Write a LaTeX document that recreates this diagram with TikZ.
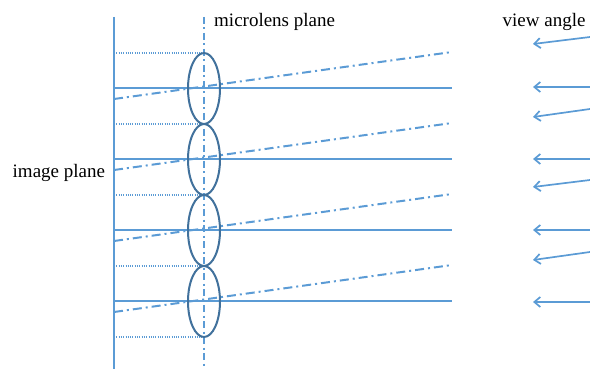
\documentclass[tikz,border=0pt]{standalone}
\usepackage{fontspec}
\setmainfont{Liberation Serif}
\usetikzlibrary{arrows.meta,shapes.geometric}
\definecolor{lineblue}{HTML}{5B9BD5}
\definecolor{lensblue}{HTML}{41719C}
\begin{document}
\begin{tikzpicture}[x=1pt,y=-1pt,
  solidline/.style={draw=lineblue, line width=2pt},
  dashdotline/.style={draw=lineblue, line width=2pt, dash pattern=on 9pt off 4pt on 2pt off 4pt},
  dotline/.style={draw=lineblue, line width=1.3pt, dash pattern=on 1pt off 1.3pt},
  lens/.style={draw=lensblue, line width=2pt},
  ray/.style={draw=lineblue, line width=1.7pt, -{Straight Barb[length=6pt,width=10pt]}},
  lbl/.style={inner sep=0pt, anchor=base west, font=\fontsize{19}{22}\selectfont}]
\useasboundingbox (0,0) rectangle (590,369);
% planes
\coordinate (ip1) at (114,17); \coordinate (ip2) at (114,369);
\draw[solidline] (ip1) -- (ip2);
\coordinate (ax1) at (204,17); \coordinate (ax2) at (204,369);
\draw[dashdotline, dash pattern=on 7pt off 3.5pt on 2pt off 3.5pt] (ax1) -- (ax2);
% dotted lens boundaries
\foreach \y/\n in {53/a,124/b,195/c,266/d,337/e}{
  \coordinate (dl\n) at (114,\y); \coordinate (dr\n) at (204,\y);
  \draw[dotline] (dl\n) -- (dr\n);
}
% solid and slanted rays
\foreach \y/\n in {88/a,159/b,230/c,301/d}{
  \coordinate (sl\n) at (114,\y); \coordinate (sr\n) at (452,\y);
  \draw[solidline] (sl\n) -- (sr\n);
  \coordinate (tl\n) at (114,\y+11); \coordinate (tr\n) at (452,\y-36);
  \draw[dashdotline] (tl\n) -- (tr\n);
}
% lenses
\foreach \y/\n in {88.5/a,159.5/b,230.5/c,301.5/d}{
  \node[lens, ellipse, minimum width=32pt, minimum height=71pt, inner sep=0pt] (lens\n) at (204,\y) {};
}
% view angle arrows
\foreach \ty/\hy/\n in {37/44/a,87/87/b,109/117/c,159/159/d,180/187/e,230/230/f,252/260/g,302/302/h}{
  \coordinate (at\n) at (590,\ty); \coordinate (ah\n) at (533,\hy);
  \draw[ray] (at\n) -- (ah\n);
}
% labels
\node[lbl] (mlp) at (214,27) {microlens plane};
\node[lbl] (va) at (502.5,27) {view angle};
\node[lbl] (imp) at (12.5,178) {image plane};
\end{tikzpicture}
\end{document}
